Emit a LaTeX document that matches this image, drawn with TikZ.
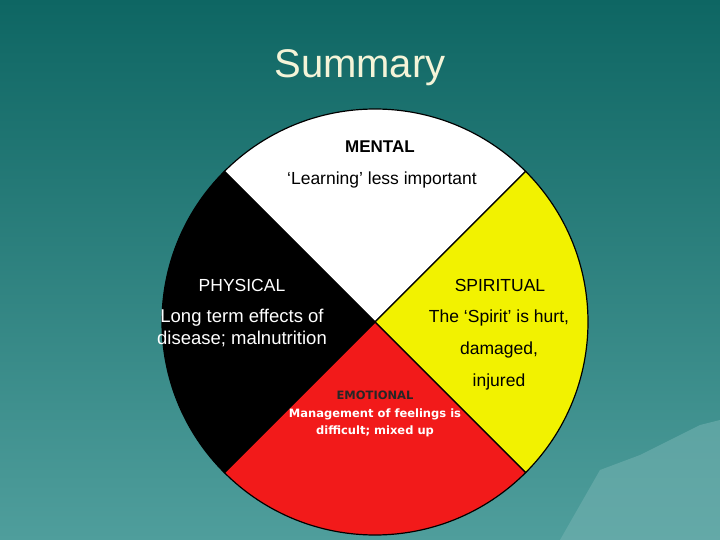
\documentclass[tikz,border=0pt]{standalone}
\usepackage{fontspec}
\setmainfont{Liberation Sans}
\newfontfamily\verdanaish{DejaVu Sans}
\definecolor{bgtop}{HTML}{0E6663}
\definecolor{bgbot}{HTML}{4F9E9C}
\definecolor{titlecol}{HTML}{F4F4D8}
\definecolor{wheelyellow}{HTML}{F2F200}
\definecolor{wheelred}{HTML}{F21A1A}
\tikzset{
  quarter/.style={draw=black, line width=1.2pt},
  lbl/.style={inner sep=0pt, align=center, font=\fontsize{17.5}{20}\selectfont},
  smalllbl/.style={inner sep=0pt, align=center, font=\verdanaish\fontsize{11.5}{17}\selectfont\bfseries}
}
\begin{document}
\begin{tikzpicture}[x=1pt,y=-1pt]
    \def\cx{375}
    \def\cy{322}
    \def\rad{213}

    % Background
    \shade[top color=bgtop, bottom color=bgbot] (0,0) rectangle (720,540);
    \useasboundingbox (0,0) rectangle (720,540);
    % Hills
    \fill[bgbot!80!white, opacity=0.6] (560,540) -- (600,470) -- (640,455) -- (670,440) -- (700,425) -- (720,420) -- (720,540) -- cycle;

    % Title
    \node[text=titlecol, font=\fontsize{40}{46}\selectfont] (title) at (360,68) {Summary};

    % Wheel quarters (angles measured with y pointing down)
    \coordinate (c) at (\cx,\cy);
    \filldraw[quarter, fill=white] (c) -- ++(-135:\rad) arc[start angle=-135, end angle=-45, radius=\rad] -- cycle;
    \filldraw[quarter, fill=wheelyellow] (c) -- ++(-45:\rad) arc[start angle=-45, end angle=45, radius=\rad] -- cycle;
    \filldraw[quarter, fill=wheelred] (c) -- ++(45:\rad) arc[start angle=45, end angle=135, radius=\rad] -- cycle;
    \filldraw[quarter, fill=black] (c) -- ++(135:\rad) arc[start angle=135, end angle=225, radius=\rad] -- cycle;

    % Labels
    \node[lbl, font=\fontsize{17}{19}\selectfont\bfseries] (mental) at (380,147) {MENTAL};
    \node[lbl] (mentaltxt) at (382,180) {‘Learning’ less important};
    \node[lbl, text=white] (physical) at (242,285) {PHYSICAL};
    \node[lbl, text=white, font=\fontsize{18.5}{22}\selectfont] (physicaltxt) at (242,328) {Long term effects of\\disease; malnutrition};
    \node[lbl] (spiritual) at (500,285) {SPIRITUAL};
    \node[lbl, font=\fontsize{17.5}{32}\selectfont] (spiritualtxt) at (499,350) {The ‘Spirit’ is hurt,\\damaged,\\injured};
    \node[smalllbl, text=black!85] (emotional) at (375,395) {EMOTIONAL};
    \node[smalllbl, text=white] (emotionaltxt) at (375,423) {Management of feelings is\\difficult; mixed up};
\end{tikzpicture}
\end{document}
